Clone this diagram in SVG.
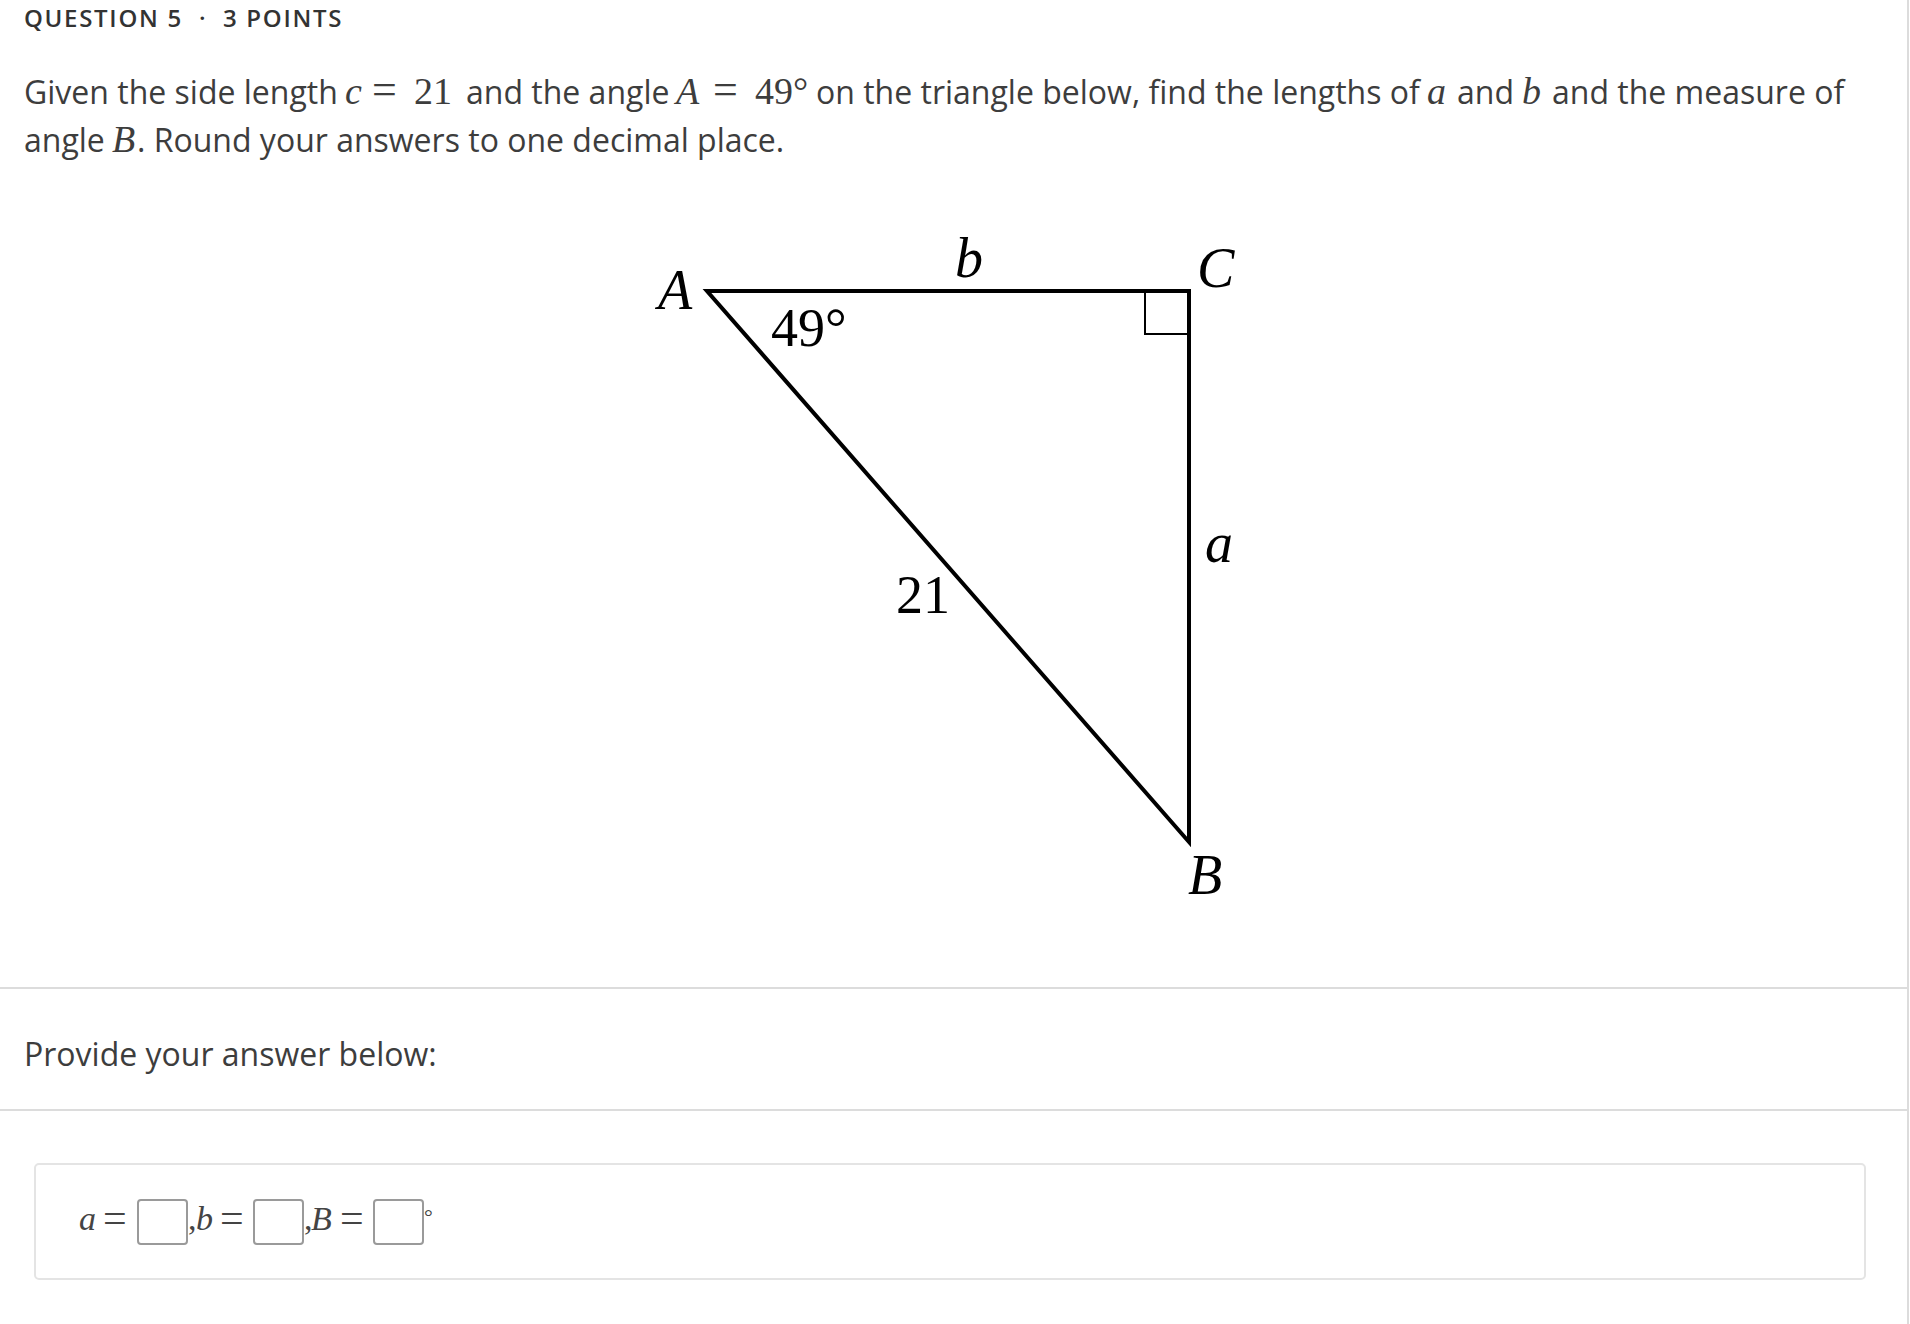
<svg xmlns="http://www.w3.org/2000/svg" width="1910" height="1324" viewBox="0 0 1910 1324">
<style>
.ui{font-family:"Open Sans","Liberation Sans",sans-serif;fill:#3d3d3d}
.hdr{font-size:24px;font-weight:600;letter-spacing:1.7px;fill:#333}
.body{font-size:32px}
.m{font-family:"Liberation Serif","DejaVu Serif",serif}
.mi{font-family:"Liberation Serif","DejaVu Serif",serif;font-style:italic}
.lbl{fill:#000;font-size:56px}
.num{fill:#000;font-size:54px}
.sep{stroke:#dcdcdc;stroke-width:2;fill:none}
.tri{stroke:#000;stroke-width:4;fill:none;stroke-linejoin:miter;stroke-miterlimit:6}
.inp{fill:#fff;stroke:#9a9a9a;stroke-width:2}
.ans{font-size:34px;fill:#444}
.eq{font-size:42px;fill:#444}
</style>
<rect x="0" y="0" width="1910" height="1324" fill="#fff"/>

<g id="header">
<text class="ui hdr" y="27"><tspan x="24">QUESTION 5</tspan><tspan x="199">·</tspan><tspan x="223">3 POINTS</tspan></text>
</g>

<g id="question">
<text class="ui body" y="104"><tspan x="24">Given the side length</tspan><tspan x="345" class="mi" font-size="38">c</tspan><tspan x="372" class="m" font-size="44">=</tspan><tspan x="414" class="m" font-size="38">21</tspan><tspan x="466">and the angle</tspan><tspan x="676" class="mi" font-size="38">A</tspan><tspan x="713" class="m" font-size="44">=</tspan><tspan x="755" class="m" font-size="38">49°</tspan><tspan x="816">on the triangle below, find the lengths of</tspan><tspan x="1427" class="mi" font-size="38">a</tspan><tspan x="1457">and</tspan><tspan x="1522" class="mi" font-size="38">b</tspan><tspan x="1552">and the measure of</tspan></text>
<text class="ui body" y="152"><tspan x="24">angle</tspan><tspan x="112" class="mi" font-size="38">B</tspan><tspan x="137">. Round your answers to one decimal place.</tspan></text>
</g>

<g id="triangle">
<path class="tri" d="M707,291 H1189 V842 Z"/>
<path d="M1189,334 H1145 V291" fill="none" stroke="#000" stroke-width="2"/>
</g>

<g id="labels">
<text class="mi lbl" x="658" y="309">A</text>
<text class="mi lbl" x="1197" y="287">C</text>
<text class="mi lbl" x="1188" y="894">B</text>
<text class="mi lbl" x="955" y="277">b</text>
<text class="mi lbl" x="1205" y="562">a</text>
<text class="m num" x="771" y="346">49°</text>
<text class="m num" x="896" y="613">21</text>
</g>

<g id="separators">
<line class="sep" x1="0" y1="988" x2="1908" y2="988"/>
<line class="sep" x1="0" y1="1110" x2="1908" y2="1110"/>
<line class="sep" x1="1908" y1="0" x2="1908" y2="1324"/>
</g>

<g id="prompt">
<text class="ui body" x="24" y="1066">Provide your answer below:</text>
</g>

<g id="answer">
<rect x="35" y="1164" width="1830" height="115" rx="4" fill="#fff" stroke="#e4e4e4" stroke-width="2"/>
<text class="mi ans" x="79" y="1230">a</text>
<text class="m eq" x="103" y="1232">=</text>
<rect class="inp" x="138" y="1200" width="49" height="44" rx="3"/>
<text class="m ans" x="188" y="1230">,</text>
<text class="mi ans" x="196" y="1230">b</text>
<text class="m eq" x="220" y="1232">=</text>
<rect class="inp" x="254" y="1200" width="49" height="44" rx="3"/>
<text class="m ans" x="304" y="1230">,</text>
<text class="mi ans" x="311" y="1230">B</text>
<text class="m eq" x="340" y="1232">=</text>
<rect class="inp" x="374" y="1200" width="49" height="44" rx="3"/>
<text class="m" x="424" y="1224" font-size="22" fill="#444">°</text>
</g>
</svg>
